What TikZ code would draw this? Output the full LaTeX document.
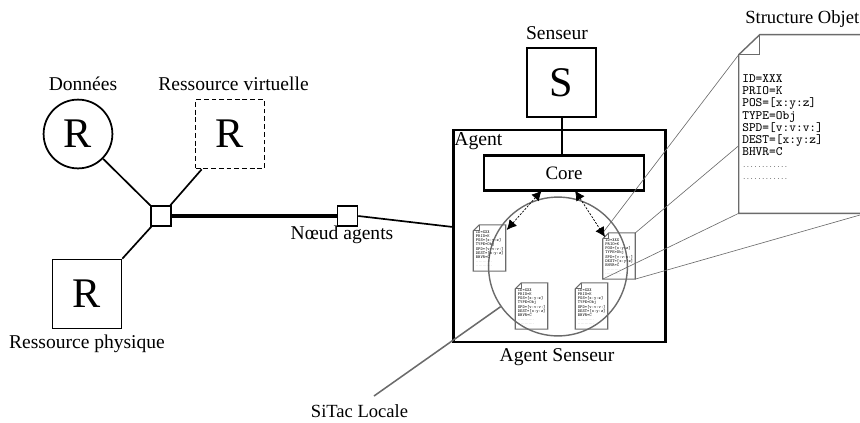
\documentclass[tikz,border=0pt]{standalone}
\usepackage{fontspec}
\setmainfont{Liberation Serif}
\usepackage{tikz}
\usetikzlibrary{arrows.meta, calc}
\definecolor{sitacgray}{gray}{.42}

% feuille a coin plie, dessinee autour d'un node
\newcommand{\sitacsheet}[2]{
\draw[sheetline] ($(#1.north west)+(#2,0)$) -- (#1.north east) -- (#1.south east)
  -- (#1.south west) -- ($(#1.north west)+(0,#2)$) -- cycle;
\draw[sheetline] ($(#1.north west)+(#2,0)$) -- ($(#1.north west)+(#2,#2)$) -- ($(#1.north west)+(0,#2)$);
}
\newcommand{\sitacfields}[1]{ID=XXX\\PRIO=K\\POS=[x:y:z]\\TYPE=Obj\\SPD=[v:v:v:]\\DEST=[x:y:z]\\BHVR=C\\{\fontsize{#1}{0}\selectfont............}\\{\fontsize{#1}{0}\selectfont............}}

\begin{document}
\begin{tikzpicture}[x=.025cm,y=-.025cm]
\tikzset{
  res/.style={draw, line width=1.25pt, minimum size=1.72cm, inner sep=0pt, font=\fontsize{30}{30}\selectfont},
  hub/.style={draw, line width=1.1pt, fill=white, minimum size=.5cm, inner sep=0pt},
  lab/.style={font=\fontsize{13.9}{14}\selectfont, inner sep=0pt},
  wire/.style={line width=1.2pt},
  sheetline/.style={draw=sitacgray, line width=.8pt},
  minisheet/.style={minimum width=.8cm, minimum height=1.14cm, inner sep=0pt, inner xsep=1.7pt, text width=.8cm-3.4pt, align=left, font=\ttfamily\fontsize{3.1}{2.95}\selectfont},
  zoomline/.style={draw=sitacgray, line width=.45pt},
  link/.style={dash pattern=on 1.5pt off 1pt, line width=.5pt, {Latex[length=7pt,width=7pt]}-{Latex[length=7pt,width=7pt]}}
}
\useasboundingbox (0,0) rectangle (860,422);

\node[res, circle] (data) at (78,134) {R};
\node[res, dash pattern=on 3.5pt off 2pt] (virt) at (230,134) {R};
\node[res] (phys) at (87,294) {R};
\node[hub] (hubres) at (161,216) {};
\node[hub] (hubagent) at (347.5,216) {};

\node[lab] (ldata) at (83,84) {Données};
\node[lab] (lvirt) at (233.5,84) {Ressource virtuelle};
\node[lab] (lphys) at (87,344) {Ressource physique};
\node[lab] (lagents) at (342,235) {Nœud agents};

\node[draw, line width=1.9pt, minimum width=5.3cm, minimum height=5.3cm, inner sep=0pt] (agent) at (559.25,236) {};
\node[lab, anchor=west, font=\fontsize{14}{15}\selectfont] (lagent) at (454,141) {Agent};
\node[lab] (lsenseur) at (557,357) {Agent Senseur};
\node[res, line width=1.4pt] (sensor) at (561.7,82.5) {S};
\node[lab] (lsensor) at (557,33) {Senseur};
\node[draw, line width=1.9pt, minimum width=4cm, minimum height=.86cm, inner sep=0pt, font=\fontsize{13.5}{15}\selectfont] (core) at (564,173) {Core};

\node[draw=sitacgray, circle, line width=1pt, minimum size=3.47cm, inner sep=0pt] (sitac) at (558,266.5) {};
\node[lab, font=\fontsize{13.2}{14}\selectfont] (lsitac) at (359.5,411) {SiTac Locale};
\coordinate (sitacend) at (374,396);

\node[minisheet] (doca) at (489.5,248) {\mbox{}\\\sitacfields{1.8}};
\node[minisheet] (docb) at (619,256) {\mbox{}\\\sitacfields{1.8}};
\node[minisheet] (docc) at (531.5,306) {\mbox{}\\\sitacfields{1.8}};
\node[minisheet] (docd) at (591.5,306) {\mbox{}\\\sitacfields{1.8}};
\sitacsheet{doca}{6}
\sitacsheet{docb}{6}
\sitacsheet{docc}{6}
\sitacsheet{docd}{6}

\node[minimum width=4cm, minimum height=4.45cm, inner sep=0pt] (bigdoc) at (819,124) {};
\coordinate (bigfold) at ($(bigdoc.north west)+(0,20)$);
\coordinate (bigtop) at ($(bigdoc.north west)+(21,0)$);
\coordinate (bigmid) at ($(bigdoc.north west)+(0,111)$);
\coordinate (bigend) at (860,215);
\draw[sheetline, line width=1pt] (bigtop) -- (bigdoc.north east) -- (bigdoc.south east)
  -- (bigdoc.south west) -- (bigfold) -- cycle;
\draw[sheetline, line width=1pt] (bigtop) -- ($(bigtop)+(0,20)$) -- (bigfold);
\node[lab, anchor=north west, align=left, font=\ttfamily\fontsize{9.1}{8.65}\selectfont] (fields) at (742,74.5) {\sitacfields{5.1}};
\node[lab, anchor=west, font=\fontsize{13.2}{14}\selectfont] (lstruct) at (745,19) {Structure Objet};

\coordinate (virtfoot) at ($(virt.south west)+(7,0)$);
\coordinate (agentport) at (453,227);
\coordinate (linkcorea) at (541.7,190.5);
\coordinate (linkcoreb) at (575,190.5);
\coordinate (linkdoca) at (506.7,230);
\coordinate (linkdocb) at (605,237);

\draw[wire] (data) -- (hubres);
\draw[wire] (virtfoot) -- (hubres);
\draw[wire] (phys.north east) -- (hubres);
\draw[line width=3.3pt] (hubres) -- (hubagent);
\draw[wire] (hubagent.east) -- (agentport);
\draw[wire] (sensor) -- (sensor |- core.north);
\draw[zoomline] (docb.north west) -- (bigfold);
\draw[zoomline] (docb.north east) -- (bigmid);
\draw[zoomline] (docb.south west) -- (bigdoc.south west);
\draw[zoomline] (docb.south east) -- (bigend);
\draw[sitacgray, line width=1.1pt] (sitac.215) -- (sitacend);
\draw[link] (linkcorea) -- (linkdoca);
\draw[link] (linkcoreb) -- (linkdocb);
\end{tikzpicture}
\end{document}
